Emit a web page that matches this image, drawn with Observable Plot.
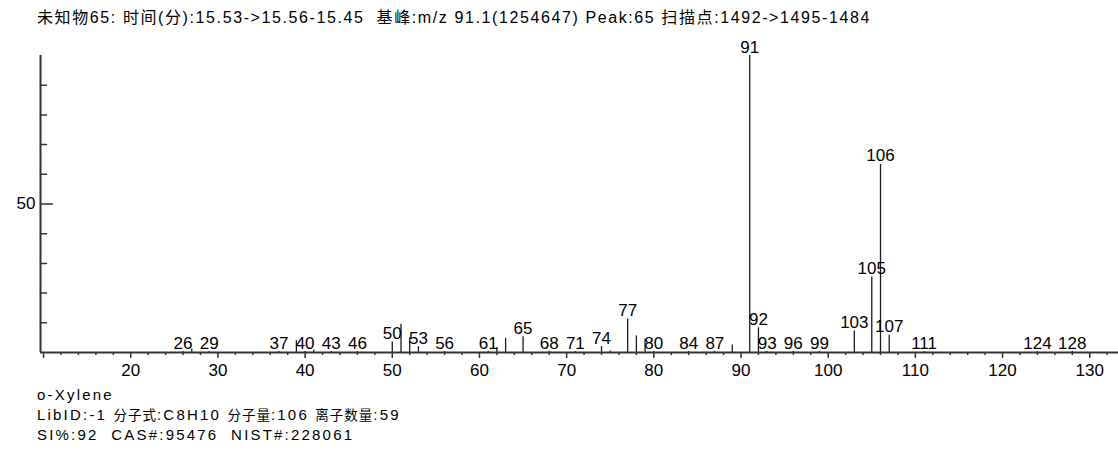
<!DOCTYPE html>
<html>
<head>
<meta charset="utf-8">
<script src="https://cdn.jsdelivr.net/npm/d3@7"></script>
<script src="https://cdn.jsdelivr.net/npm/@observablehq/plot@0.6"></script>
<style>
  body { margin: 0; background: #fff; color: #000; font-family: "Liberation Sans", Arial, "Noto Sans CJK SC", sans-serif; }
  #title { position: absolute; left: 37px; top: 4px; font-size: 16px; letter-spacing: 1.6px; white-space: pre; }
  #chart { position: absolute; left: 0; top: 28px; }
  #caption { position: absolute; left: 37px; top: 385px; font-size: 15px; line-height: 19.5px; letter-spacing: 2.2px; white-space: pre; }
  .cjk { font-size: 13.5px; letter-spacing: 1px; }
</style>
</head>
<body>
<div id="title"></div>
<div id="chart"></div>
<div id="caption"></div>
<script>
// Header and library-match text
const titleText = "未知物65: 时间(分):15.53->15.56-15.45  基峰:m/z 91.1(1254647) Peak:65 扫描点:1492->1495-1484";
const captionLines = [
  "o-Xylene",
  "LibID:-1 分子式:C8H10 分子量:106 离子数量:59",
  "SI%:92  CAS#:95476  NIST#:228061"
];

// Mass spectrum: m/z and relative abundance (%)
const mzValues = [26, 27, 29, 37, 39, 40, 41, 43, 46, 50, 51, 52, 53, 56, 61, 62, 63, 65, 68, 71, 74, 75, 77, 78, 79, 80, 84, 87, 89, 91, 92, 93, 96, 99, 103, 105, 106, 107, 111, 124, 128];
const abundance = [0.3, 1.2, 0.3, 0.3, 4.0, 0.3, 0.8, 0.3, 0.3, 3.5, 9.5, 5.0, 2.0, 0.3, 0.3, 1.7, 4.8, 5.3, 0.3, 0.3, 2.0, 0.5, 11.3, 5.6, 4.5, 0.3, 0.3, 0.3, 2.5, 100, 8.3, 0.3, 0.3, 0.3, 7.2, 25.4, 63.3, 5.8, 0.3, 0.3, 0.3];

// Peaks that carry an m/z label
const labeledMz = [26, 29, 37, 40, 43, 46, 50, 53, 56, 61, 65, 68, 71, 74, 77, 80, 84, 87, 91, 92, 93, 96, 99, 103, 105, 106, 107, 111, 124, 128];

// Axis ticks
const xMajorTicks = [10, 20, 30, 40, 50, 60, 70, 80, 90, 100, 110, 120, 130];
const xTickLabels = [20, 30, 40, 50, 60, 70, 80, 90, 100, 110, 120, 130];
const xMinorTicks = d3.range(12, 134, 2).filter(v => v % 10 !== 0);
const yMinorTicks = [10, 20, 30, 40, 60, 70, 80, 90];
const yMajorTicks = [50];

const xDomain = [9.65, 133.3];

const peaks = mzValues.map((mz, i) => ({mz, value: abundance[i]}));
const labels = peaks.filter(p => labeledMz.includes(p.mz));

const axisColor = "#333";
const fontFamily = "'Liberation Sans', Arial, sans-serif";

// plain straight segment for the inward y ticks
const tickShape = {
  draw(context, length) {
    context.moveTo(0, 0);
    context.lineTo(0, -length);
  }
};

const chart = Plot.plot({
  width: 1118,
  height: 354,
  marginLeft: 40,
  marginRight: 0,
  marginTop: 27,
  marginBottom: 30,
  style: {fontFamily, fontSize: "17px", color: "#000", background: "#fff"},
  x: {domain: xDomain},
  y: {domain: [0, 100]},
  marks: [
    // peak sticks
    Plot.ruleX(peaks, {x: "mz", y1: 0, y2: "value", stroke: "#1a1a1a", strokeWidth: 1.3}),
    // peak labels
    Plot.text(labels, {x: "mz", y: "value", text: d => String(d.mz), lineAnchor: "bottom", dy: -3, fontSize: 17, fill: "#000"}),
    // x axis: major ticks with labels, minor ticks
    Plot.axisX({ticks: xMajorTicks, tickSize: 6, tickPadding: 5, tickFormat: d => xTickLabels.includes(d) ? String(d) : "", stroke: axisColor, strokeWidth: 1.5, fontSize: 17, label: null}),
    Plot.axisX({ticks: xMinorTicks, tickSize: 3, text: null, stroke: axisColor, strokeWidth: 1.5, label: null}),
    // y axis: inward ticks, only 50 labelled
    Plot.vector(yMinorTicks, {y: d => d, frameAnchor: "left", length: 6, rotate: 90, anchor: "start", shape: tickShape, stroke: axisColor, strokeWidth: 1.5}),
    Plot.vector(yMajorTicks, {y: d => d, frameAnchor: "left", length: 12, rotate: 90, anchor: "start", shape: tickShape, stroke: axisColor, strokeWidth: 1.5}),
    Plot.axisY({ticks: yMajorTicks, tickSize: 0, tickPadding: 5, fontSize: 17, label: null}),
    // axis lines
    Plot.ruleY([0], {stroke: axisColor, strokeWidth: 2}),
    Plot.ruleX([xDomain[0]], {y1: 0, y2: 100, stroke: axisColor, strokeWidth: 2})
  ]
});

document.getElementById("chart").appendChild(chart);
document.getElementById("title").textContent = titleText;

// caption lines: Han characters set a little smaller than the Latin text
const caption = document.getElementById("caption");
captionLines.forEach(line => {
  const div = document.createElement("div");
  line.split(/([\u4e00-\u9fff]+)/).forEach((part, j) => {
    if (!part) return;
    const span = document.createElement("span");
    if (j % 2 === 1) span.className = "cjk";
    span.textContent = part;
    div.appendChild(span);
  });
  caption.appendChild(div);
});
</script>
</body>
</html>
